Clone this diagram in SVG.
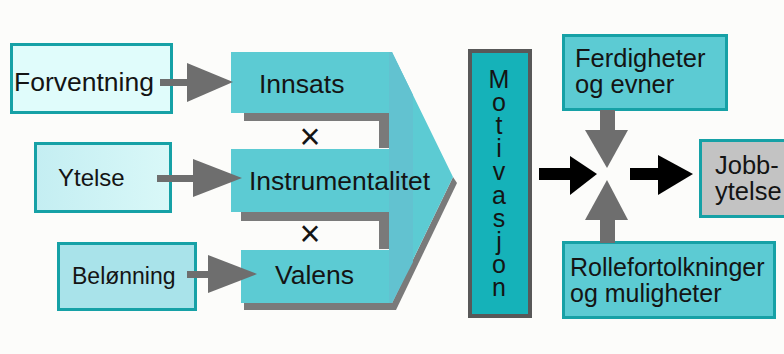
<svg xmlns="http://www.w3.org/2000/svg" width="784" height="354" viewBox="0 0 784 354">
<defs>
<style>
.t{font-family:"Liberation Sans",Arial,sans-serif;fill:#141414;}
.box{stroke:#16a1a6;stroke-width:3;}
.ga{fill:#6e6e6e;}
.ba{fill:#000;}
.sh{fill:#7a7a7a;}
.vert{writing-mode:vertical-rl;text-orientation:upright;letter-spacing:-4.9px;}
</style>
<linearGradient id="gy" x1="0" y1="0" x2="1" y2="0">
<stop offset="0" stop-color="#c4eef2"/><stop offset="1" stop-color="#d9f8f8"/>
</linearGradient>
</defs>
<rect width="784" height="354" fill="#fcfcfa"/>

<g id="forventning">
<rect class="box" x="11.5" y="44.5" width="160" height="68" fill="#e0fcfb"/>
<text class="t" x="14" y="91" font-size="26.5">Forventning</text>
</g>
<g id="ytelse">
<rect class="box" x="35.5" y="143.5" width="135" height="68" fill="url(#gy)"/>
<text class="t" x="58" y="186" font-size="24">Ytelse</text>
</g>
<g id="belonning">
<rect class="box" x="58.5" y="243.5" width="137" height="66" fill="#a9e3ea"/>
<text class="t" x="72" y="284" font-size="23">Belønning</text>
</g>

<g id="drivere">
<rect class="sh" x="244" y="113" width="145" height="8"/>
<rect class="sh" x="379" y="113" width="10" height="35"/>
<rect class="sh" x="241" y="212" width="148" height="9"/>
<rect class="sh" x="379" y="212" width="10" height="37"/>
<rect class="sh" x="244" y="303" width="152" height="7"/>
<polygon class="sh" points="453,177 457,183 396,310 392,303"/>
<polygon fill="#5ccbd3" points="231,52 392,52 453,177 392,303 241,303 241,250 389,250 389,212 231,212 231,149 389,149 389,113 231,113"/>
<polygon fill="#62c2d0" points="389,52 392,52 413,95 413,262 392,303 389,303"/>
<text class="t" x="259" y="93" font-size="26.5">Innsats</text>
<text class="t" x="249" y="190" font-size="26.5">Instrumentalitet</text>
<text class="t" x="275" y="284" font-size="26.5">Valens</text>
<text class="t" x="310" y="149" font-size="36" text-anchor="middle">×</text>
<text class="t" x="310" y="246" font-size="36" text-anchor="middle">×</text>
</g>

<g id="motivasjon">
<rect x="470" y="51" width="60" height="265" fill="#15b2b9" stroke="#585858" stroke-width="4"/>
<text class="t vert" font-size="25" x="499" y="65">Motivasjon</text>
</g>

<g id="ferdigheter">
<rect class="box" x="563.5" y="35.5" width="163" height="74" fill="#5ccbd3"/>
<text class="t" x="575" y="67" font-size="25.5">Ferdigheter</text>
<text class="t" x="575" y="93" font-size="25.5">og evner</text>
</g>
<g id="rolle">
<rect class="box" x="563.5" y="242.5" width="211" height="75" fill="#5ccbd3"/>
<text class="t" x="570" y="276" font-size="25">Rollefortolkninger</text>
<text class="t" x="570" y="302" font-size="25">og muligheter</text>
</g>
<g id="jobbytelse">
<rect class="box" x="700.5" y="140.5" width="90" height="76" fill="#c3c3c3"/>
<text class="t" x="715" y="174" font-size="25.5">Jobb-</text>
<text class="t" x="715" y="200" font-size="25.5">ytelse</text>
</g>

<g id="connectors">
<rect class="ga" x="160" y="79" width="28" height="7"/>
<polygon class="ga" points="187,63 233,82 187,102"/>
<rect class="ga" x="157" y="175" width="37" height="7"/>
<polygon class="ga" points="193,159 242,178 193,197"/>
<rect class="ga" x="187" y="271" width="22" height="7"/>
<polygon class="ga" points="208,255 257,274 208,293"/>
<rect class="ga" x="600" y="110" width="15" height="21"/>
<polygon class="ga" points="585,130 628,130 607,168"/>
<rect class="ga" x="600" y="219" width="15" height="24"/>
<polygon class="ga" points="585,220 628,220 607,180"/>
<rect class="ba" x="539" y="168" width="32" height="12"/>
<polygon class="ba" points="570,156 597,174 570,195"/>
<rect class="ba" x="630" y="168" width="29" height="12"/>
<polygon class="ba" points="658,155 693,174 658,195"/>
</g>
</svg>
